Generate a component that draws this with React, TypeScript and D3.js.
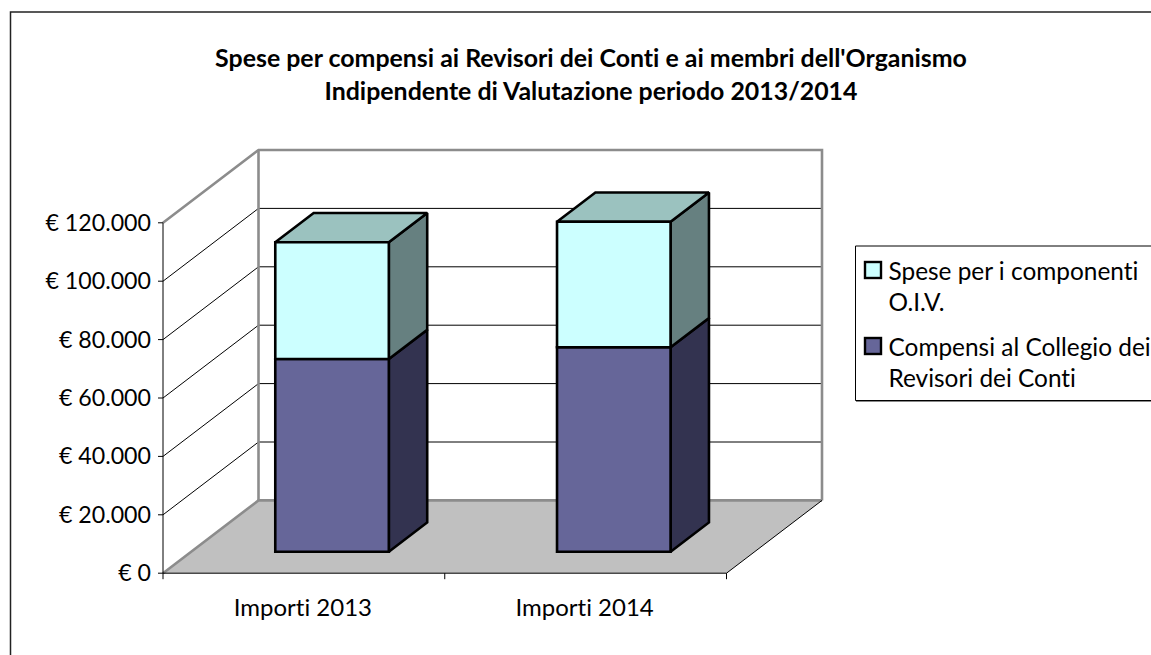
import React from "react";
import * as d3 from "d3";

const titleLines = [
  "Spese per compensi ai Revisori dei Conti e ai membri dell'Organismo",
  "Indipendente di Valutazione periodo 2013/2014",
];
const categories = ["Importi 2013", "Importi 2014"];
const compensi = [66000, 70000];
const spese = [40000, 43000];
const yTicks = [0, 20000, 40000, 60000, 80000, 100000, 120000];
const yTickLabels = ["€ 0", "€ 20.000", "€ 40.000", "€ 60.000", "€ 80.000", "€ 100.000", "€ 120.000"];
const legendEntries = [
  { lines: ["Spese per i componenti", "O.I.V."], fill: "#CCFFFF" },
  { lines: ["Compensi al Collegio dei", "Revisori dei Conti"], fill: "#666699" },
];

const W = 1151, H = 655;
const FONT = "Lato, 'Open Sans', sans-serif";
const DX = 95.5, DY = 72.8;
const y = d3.scaleLinear().domain([0, 120000]).range([573.2, 222.8]);
const x = d3.scaleBand<string>().domain(categories).range([163, 726.5]);
const BAR_FRAC = 0.403;
const zNear = 0.295, zFar = 0.697;
const px = (X: number, z: number) => X + z * DX;
const py = (v: number, z: number) => y(v) - z * DY;
const line = d3.line<[number, number]>();
const poly = (pts: [number, number][]) => line(pts) + "Z";

function Cuboid({ x0, x1, v0, v1, front, side, top, showTop }: any) {
  const p = (X: number, v: number, z: number): [number, number] => [px(X, z), py(v, z)];
  return (
    <g stroke="#000" strokeWidth={2.6} strokeLinejoin="miter" strokeMiterlimit={1.5}>
      <path d={poly([p(x1, v0, zNear), p(x1, v0, zFar), p(x1, v1, zFar), p(x1, v1, zNear)])} fill={side} />
      {showTop && <path d={poly([p(x0, v1, zNear), p(x0, v1, zFar), p(x1, v1, zFar), p(x1, v1, zNear)])} fill={top} />}
      <path d={poly([p(x0, v0, zNear), p(x1, v0, zNear), p(x1, v1, zNear), p(x0, v1, zNear)])} fill={front} />
    </g>
  );
}

export default function App() {
  const [xL, xR] = x.range();
  const gridVals = yTicks.slice(1, -1);
  const max = yTicks[yTicks.length - 1];
  return (
    <svg width={W} height={H} viewBox={`0 0 ${W} ${H}`} style={{ position: "fixed", left: 0, top: 0, display: "block", background: "#fff", fontVariantLigatures: "none" }} fontFamily={FONT}>
      <path d={`M10.5 ${H}V12H${W}`} fill="none" stroke="#222" strokeWidth={1.5} />
      {titleLines.map((t, i) => (
        <text key={i} x={591} y={66.5 + i * 33} textAnchor="middle" fontSize={24.9} fontWeight={700} fill="#000">{t}</text>
      ))}

      {/* floor */}
      <path d={poly([[px(xL, 0), py(0, 0)], [px(xR, 0), py(0, 0)], [px(xR, 1), py(0, 1)], [px(xL, 1), py(0, 1)]])} fill="#C0C0C0" />
      {/* gridlines */}
      <g stroke="#000" strokeWidth={1} fill="none">
        {gridVals.map((v) => (
          <path key={v} d={line([[px(xL, 0), py(v, 0)], [px(xL, 1), py(v, 1)], [px(xR, 1), py(v, 1)]])!} />
        ))}
      </g>
      {/* walls */}
      <g stroke="#8c8c8c" strokeWidth={2.6} fill="none">
        <path d={line([[px(xL, 0), py(0, 0)], [px(xL, 1), py(0, 1)], [px(xR, 1), py(0, 1)]])!} />
        <path d={line([[px(xL, 0), py(max, 0)], [px(xL, 1), py(max, 1)], [px(xR, 1), py(max, 1)], [px(xR, 1), py(0, 1)]])!} />
        <path d={line([[px(xL, 1), py(max, 1)], [px(xL, 1), py(0, 1)]])!} />
      </g>
      <path d={line([[px(xR, 0), py(0, 0)], [px(xR, 1), py(0, 1)]])!} stroke="#000" strokeWidth={1} fill="none" />

      {/* bars */}
      {categories.map((c, i) => {
        const bw = x.bandwidth() * BAR_FRAC;
        const x0 = x(c)! + (x.bandwidth() - bw) / 2;
        const x1 = x0 + bw;
        return (
          <g key={c}>
            <Cuboid x0={x0} x1={x1} v0={0} v1={compensi[i]} front="#666699" side="#333350" top="#4d4d73" />
            <Cuboid x0={x0} x1={x1} v0={compensi[i]} v1={compensi[i] + spese[i]} front="#CCFFFF" side="#668080" top="#9BC2BF" showTop />
          </g>
        );
      })}

      {/* axes */}
      <g stroke="#000" strokeWidth={1} fill="none">
        <path d={`M${xL} ${y(max)}V${y(0)}H${xR}`} />
        {yTicks.map((v) => <path key={v} d={`M${xL - 5} ${y(v)}H${xL}`} />)}
        {[xL, x(categories[1])!, xR].map((X) => <path key={X} d={`M${X} ${y(0)}v6`} />)}
      </g>
      <g fill="#000">
        {yTicks.map((v, i) => (
          <text key={v} x={151} y={y(v) + 8} textAnchor="end" fontSize={23.2}>{yTickLabels[i]}</text>
        ))}
        {categories.map((c) => (
          <text key={c} x={x(c)! + x.bandwidth() / 2 - 1} y={616} textAnchor="middle" fontSize={24}>{c}</text>
        ))}
      </g>

      {/* legend */}
      <path d={`M${W} 246H855.5V400.5H${W}`} fill="#fff" stroke="#000" strokeWidth={1} />
      <path d={`M856 401.5H${W}`} stroke="#888" strokeWidth={1} />
      {legendEntries.map((e, i) => (
        <g key={i}>
          <rect x={865} y={262 + i * 76} width={16} height={16} fill={e.fill} stroke="#000" strokeWidth={2.4} />
          {e.lines.map((t, j) => (
            <text key={j} x={888.5} y={280 + i * 76 + j * 30.5} fontSize={24.4} fill="#000">{t}</text>
          ))}
        </g>
      ))}
    </svg>
  );
}
